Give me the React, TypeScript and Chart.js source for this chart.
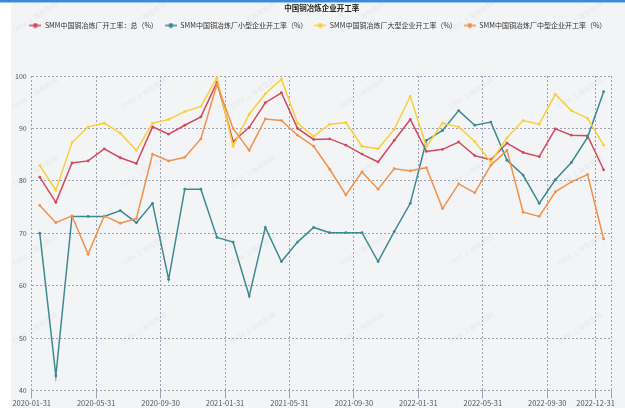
import React, { useEffect, useRef } from 'react';
import { Chart, registerables } from 'chart.js';

Chart.register(...registerables);

const CHART_TITLE = '中国铜冶炼企业开工率';
const WATERMARK = 'SMM 上海有色网';

const months = [
  '2020-01-31', '2020-02-29', '2020-03-31', '2020-04-30', '2020-05-31', '2020-06-30',
  '2020-07-31', '2020-08-31', '2020-09-30', '2020-10-31', '2020-11-30', '2020-12-31',
  '2021-01-31', '2021-02-28', '2021-03-31', '2021-04-30', '2021-05-31', '2021-06-30',
  '2021-07-31', '2021-08-31', '2021-09-30', '2021-10-31', '2021-11-30', '2021-12-31',
  '2022-01-31', '2022-02-28', '2022-03-31', '2022-04-30', '2022-05-31', '2022-06-30',
  '2022-07-31', '2022-08-31', '2022-09-30', '2022-10-31', '2022-11-30', '2022-12-31',
];

const xTickLabels = [
  '2020-01-31', '2020-05-31', '2020-09-30', '2021-01-31', '2021-05-31',
  '2021-09-30', '2022-01-31', '2022-05-31', '2022-09-30', '2022-12-31',
];

const seriesNames = [
  'SMM中国铜冶炼厂开工率：总（%）',
  'SMM中国铜冶炼厂小型企业开工率（%）',
  'SMM中国铜冶炼厂大型企业开工率（%）',
  'SMM中国铜冶炼厂中型企业开工率（%）',
];

const totalRate = [
  80.7, 75.9, 83.4, 83.8, 86.1, 84.4, 83.3, 90.3, 88.9, 90.6, 92.2, 98.8,
  87.5, 90.2, 94.9, 96.8, 90.0, 87.9, 88.0, 86.8, 85.1, 83.6, 87.7, 91.7,
  85.6, 86.0, 87.4, 84.8, 84.0, 87.2, 85.4, 84.6, 89.9, 88.7, 88.6, 82.1,
];
const smallRate = [
  70.0, 42.8, 73.2, 73.2, 73.2, 74.3, 72.0, 75.7, 61.2, 78.4, 78.4, 69.2,
  68.3, 58.0, 71.1, 64.6, 68.3, 71.1, 70.1, 70.1, 70.1, 64.6, 70.3, 75.7,
  87.7, 89.6, 93.4, 90.6, 91.2, 83.9, 81.1, 75.7, 80.2, 83.5, 88.3, 97.0,
];
const largeRate = [
  82.9, 78.2, 87.3, 90.3, 91.0, 89.1, 85.8, 91.0, 91.7, 93.2, 94.2, 99.7,
  86.6, 92.7, 96.6, 99.4, 91.0, 88.5, 90.8, 91.1, 86.6, 86.1, 89.8, 96.1,
  86.5, 91.0, 90.3, 87.5, 83.6, 88.2, 91.5, 90.8, 96.5, 93.4, 91.9, 86.8,
];
const mediumRate = [
  75.3, 72.0, 73.3, 66.0, 73.3, 71.9, 72.8, 85.1, 83.8, 84.5, 88.0, 98.4,
  90.0, 85.8, 91.8, 91.5, 88.7, 86.6, 82.2, 77.3, 81.7, 78.4, 82.3, 81.9,
  82.5, 74.7, 79.4, 77.7, 83.0, 85.8, 74.0, 73.2, 77.9, 79.8, 81.2, 68.9,
];

const seriesValues = [totalRate, smallRate, largeRate, mediumRate];
const seriesColors = ['#d04b5b', '#3d8a90', '#f9d03a', '#f0924c'];

const Y_MIN = 40;
const Y_MAX = 100;
const Y_STEP = 10;

const FONT = '"Noto Sans CJK SC", "Noto Sans", sans-serif';
const GRID_COLOR = '#9ea0b3';

function makeLegendIcon(color: string): HTMLCanvasElement {
  const c = document.createElement('canvas');
  c.width = 12;
  c.height = 6;
  const ctx = c.getContext('2d')!;
  ctx.strokeStyle = color;
  ctx.lineWidth = 1.5;
  ctx.beginPath();
  ctx.moveTo(0, 3);
  ctx.lineTo(12, 3);
  ctx.stroke();
  ctx.fillStyle = color;
  ctx.beginPath();
  ctx.arc(6, 3, 2.4, 0, Math.PI * 2);
  ctx.fill();
  return c;
}

const backgroundPlugin = {
  id: 'pageBackground',
  beforeDraw(chart: any) {
    const { ctx, width, height } = chart;
    ctx.save();
    ctx.fillStyle = '#ffffff';
    ctx.fillRect(0, 0, width, height);
    ctx.fillStyle = '#f3f4f6';
    ctx.fillRect(11, 3, width - 11, height - 3);
    ctx.fillStyle = '#3b8ad8';
    ctx.fillRect(0, 0, width, 2.5);
    ctx.font = `7px ${FONT}`;
    ctx.fillStyle = 'rgba(70,70,90,0.07)';
    ctx.textAlign = 'center';
    ctx.textBaseline = 'middle';
    const cols = [35, 144, 253, 362, 471, 580];
    const rows = [17, 93, 171, 250, 328];
    rows.forEach((ry) => {
      cols.forEach((cx) => {
        ctx.save();
        ctx.translate(cx, ry);
        ctx.rotate(-Math.PI / 5.5);
        ctx.fillText(WATERMARK, 0, 0);
        ctx.restore();
      });
    });
    ctx.restore();
  },
};

const LEGEND_EXTRA = 37;
const LEGEND_SHIFT = 12;
const legendSpacer = {
  id: 'legendSpacer',
  beforeUpdate(chart: any) {
    const lg = chart.legend;
    if (lg && !lg.__patched) {
      const orig = lg.fit.bind(lg);
      lg.fit = function () {
        orig();
        this.height += LEGEND_EXTRA;
      };
      lg.__patched = true;
    }
  },
  afterLayout(chart: any) {
    const lg = chart.legend;
    if (lg) {
      lg.left += LEGEND_SHIFT;
      lg.right += LEGEND_SHIFT;
    }
  },
};

export default function App() {
  const canvasRef = useRef<HTMLCanvasElement | null>(null);

  useEffect(() => {
    if (!canvasRef.current) return;
    const icons = seriesColors.map(makeLegendIcon);
    const tickPositions = xTickLabels.map((l) => months.indexOf(l)).concat([months.length]);

    const datasets = seriesNames.map((name, si) => ({
      label: name,
      data: seriesValues[si].map((v, i) => ({ x: i + 0.5, y: v })),
      borderColor: seriesColors[si],
      backgroundColor: seriesColors[si],
      pointBackgroundColor: seriesColors[si],
      pointBorderWidth: 0,
      pointRadius: 1.4,
      borderWidth: 1.5,
      tension: 0,
      fill: false,
      order: seriesNames.length - si,
    }));

    const chart = new Chart(canvasRef.current, {
      type: 'line',
      data: { datasets },
      plugins: [backgroundPlugin, legendSpacer],
      options: {
        animation: false,
        responsive: true,
        maintainAspectRatio: false,
        devicePixelRatio: 1,
        layout: { padding: { top: 2, left: 0, right: 13.3, bottom: 0 } },
        plugins: {
          title: {
            display: true,
            text: CHART_TITLE,
            fullSize: false,
            color: '#222',
            font: { family: FONT, size: 7.5, weight: 'bold' },
            padding: { top: 2, bottom: 2 },
          },
          legend: {
            display: true,
            fullSize: true,
            position: 'top',
            align: 'center',
            labels: {
              usePointStyle: true,
              pointStyleWidth: 12,
              color: '#333',
              padding: 7,
              font: { family: FONT, size: 7 },
              generateLabels: (c: any) => {
                const items = (Chart.defaults.plugins.legend.labels as any).generateLabels(c);
                return items
                  .sort((a: any, b: any) => a.datasetIndex - b.datasetIndex)
                  .map((it: any) => ({ ...it, pointStyle: icons[it.datasetIndex] }));
              },
            },
          },
          tooltip: { enabled: false },
        },
        scales: {
          x: {
            type: 'linear',
            min: 0,
            max: months.length,
            afterBuildTicks: (s: any) => {
              s.ticks = tickPositions.map((v) => ({ value: v }));
            },
            afterFit: (s: any) => {
              s.height = 17.6;
            },
            ticks: {
              autoSkip: false,
              maxRotation: 0,
              minRotation: 0,
              padding: 0,
              color: '#555',
              font: { family: FONT, size: 7.5 },
              callback: (v: any) => {
                const idx = Number(v);
                return idx < months.length ? months[idx] : '';
              },
            },
            grid: { color: GRID_COLOR, lineWidth: 1, drawTicks: true, tickLength: 8 },
            border: { display: false, dash: [2, 2] },
          },
          y: {
            type: 'linear',
            min: Y_MIN,
            max: Y_MAX,
            afterFit: (s: any) => {
              s.width = 31.7;
            },
            ticks: {
              stepSize: Y_STEP,
              padding: 5,
              color: '#555',
              font: { family: FONT, size: 7 },
            },
            grid: { color: GRID_COLOR, lineWidth: 1, drawTicks: false },
            border: { display: false, dash: [2, 2] },
          },
        },
      } as any,
    });
    return () => chart.destroy();
  }, []);

  return (
    <div style={{ position: 'absolute', left: 0, top: 0, width: 625, height: 408 }}>
      <canvas ref={canvasRef} />
    </div>
  );
}
